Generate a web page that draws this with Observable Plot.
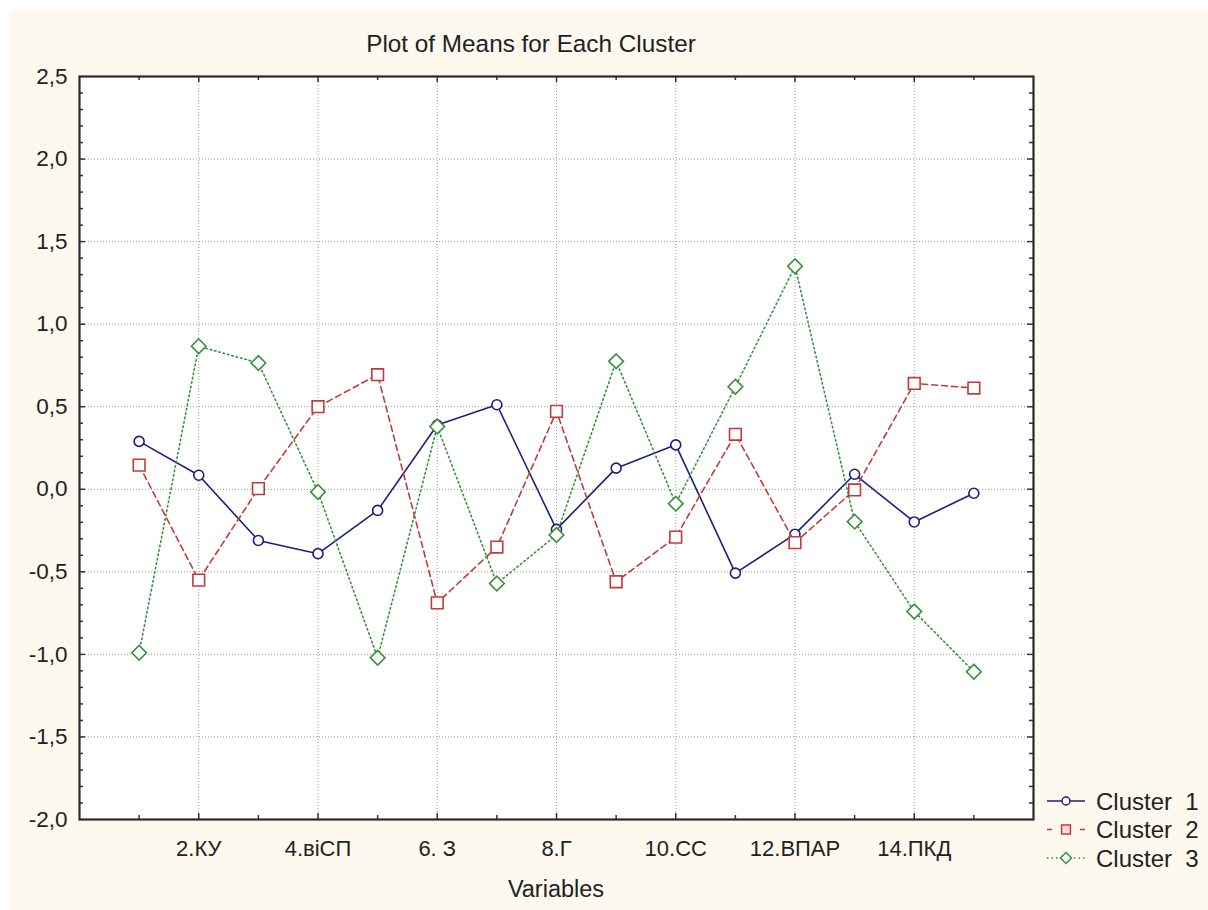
<!DOCTYPE html>
<html><head><meta charset="utf-8">
<script src="https://cdn.jsdelivr.net/npm/d3@7"></script>
<script src="https://cdn.jsdelivr.net/npm/@observablehq/plot@0.6"></script>
<style>
body{margin:0;background:#fff;}
#panel{position:absolute;left:10px;top:10px;width:1198px;height:900px;background:#fdf9ef;}
</style></head><body><div id="panel"></div>
<script>
// ---- data ----
const positions = [1,2,3,4,5,6,7,8,9,10,11,12,13,14,15];
const tickPositions = [2,4,6,8,10,12,14];
const tickLabels = ["2.КУ","4.віСП","6. З","8.Г","10.СС","12.ВПАР","14.ПКД"];
const yTickValues = [-2,-1.5,-1,-0.5,0,0.5,1,1.5,2,2.5];
const seriesNames = ["Cluster  1","Cluster  2","Cluster  3"];
const cluster1 = [0.29, 0.085, -0.31, -0.39, -0.128, 0.389, 0.512, -0.243, 0.128, 0.269, -0.508, -0.272, 0.091, -0.198, -0.024];
const cluster2 = [0.146, -0.55, 0.004, 0.5, 0.694, -0.688, -0.35, 0.472, -0.56, -0.29, 0.333, -0.323, -0.004, 0.641, 0.613];
const cluster3 = [-0.99, 0.866, 0.765, -0.016, -1.02, 0.38, -0.571, -0.277, 0.775, -0.087, 0.621, 1.351, -0.196, -0.74, -1.105];
const title = "Plot of Means for Each Cluster";
const xTitle = "Variables";

// ---- styles ----
const colors = ["#1e1e7e", "#c23b3b", "#3a8f3a"];
const dashes = [null, "6,4", "1.5,3"];
const symbols = ["circle", "square", "diamond2"];
const radii = [5, 6.6, 6.6];
const font = "'Liberation Sans', Arial, sans-serif";

const W = 1198, H = 900, mL = 69, mT = 66, mR = 175, mB = 91;
const innerW = W - mL - mR, innerH = H - mT - mB;

const seriesValues = [cluster1, cluster2, cluster3];
const rows = seriesValues.map((vals, s) => positions.map((p, i) => ({pos: p, value: vals[i], series: seriesNames[s]})));

const labelMap = new Map(tickPositions.map((p, i) => [p, tickLabels[i]]));
const xMinor = positions.filter(p => !tickPositions.includes(p));
const yMinor = d3.range(-19, 25).map(v => v / 10).filter(v => Math.abs(v * 2 - Math.round(v * 2)) > 1e-6);
const yMajorInner = yTickValues.filter(v => v > -2 && v < 2.5);
const tickColor = "#333";

const seriesMarks = rows.flatMap((data, s) => [
  Plot.line(data, {x: "pos", y: "value", stroke: colors[s], strokeWidth: 1.6, strokeDasharray: dashes[s]}),
  Plot.dot(data, {x: "pos", y: "value", symbol: () => symbols[s], r: radii[s], stroke: colors[s], fill: "white", strokeWidth: 1.6})
]);

const chart = Plot.plot({
  width: W, height: H,
  marginLeft: mL, marginTop: mT, marginRight: mR, marginBottom: mB,
  style: {background: "transparent", fontFamily: font, color: "#222"},
  x: {domain: [0, 16]},
  y: {domain: [-2, 2.5]},
  symbol: {type: "identity"},
  marks: [
    Plot.frame({fill: "white", stroke: null}),
    Plot.gridX(tickPositions, {stroke: "#9a9a9a", strokeOpacity: 1, strokeDasharray: "1,2"}),
    Plot.gridY(yMajorInner, {stroke: "#9a9a9a", strokeOpacity: 1, strokeDasharray: "1,2"}),
    // inward ticks: bottom & top
    Plot.tickX(tickPositions, {x: d => d, insetTop: innerH - 6, stroke: tickColor, strokeWidth: 1.5}),
    Plot.tickX(xMinor, {x: d => d, insetTop: innerH - 4, stroke: tickColor, strokeWidth: 1.5}),
    Plot.tickX(tickPositions, {x: d => d, insetBottom: innerH - 6, stroke: tickColor, strokeWidth: 1.5}),
    Plot.tickX(xMinor, {x: d => d, insetBottom: innerH - 4, stroke: tickColor, strokeWidth: 1.5}),
    // inward ticks: left & right
    Plot.tickY(yMajorInner, {y: d => d, insetRight: innerW - 6, stroke: tickColor, strokeWidth: 1.5}),
    Plot.tickY(yMinor, {y: d => d, insetRight: innerW - 4, stroke: tickColor, strokeWidth: 1.5}),
    Plot.tickY(yMajorInner, {y: d => d, insetLeft: innerW - 6, stroke: tickColor, strokeWidth: 1.5}),
    Plot.tickY(yMinor, {y: d => d, insetLeft: innerW - 4, stroke: tickColor, strokeWidth: 1.5}),
    Plot.frame({stroke: "#2a2a2a", strokeWidth: 2.2}),
    Plot.axisX(tickPositions, {anchor: "bottom", tickSize: 0, tickPadding: 21, tickFormat: d => labelMap.get(d), fontSize: 22, label: null}),
    Plot.axisY(yTickValues, {anchor: "left", tickSize: 0, tickPadding: 12, tickFormat: d => d.toFixed(1).replace(".", ","), fontSize: 22.5, label: null}),
    ...seriesMarks
  ]
});

document.getElementById("panel").appendChild(chart);

// ---- title, axis title and legend ----
const svg = d3.select(chart);
svg.append("text").attr("x", 521).attr("y", 42).attr("text-anchor", "middle")
  .attr("font-family", font).attr("font-size", 24.3).attr("fill", "#222").text(title);
svg.append("text").attr("x", 546).attr("y", 887).attr("text-anchor", "middle")
  .attr("font-family", font).attr("font-size", 23.5).attr("fill", "#222").text(xTitle);

const legendX0 = 1037, legendX1 = 1075, legendText = 1086;
const legendY = [791, 819.5, 848];
seriesNames.forEach((name, s) => {
  const g = svg.append("g").attr("transform", `translate(0,${legendY[s]})`);
  g.append("line").attr("x1", legendX0).attr("x2", legendX1).attr("y1", 0).attr("y2", 0)
    .attr("stroke", colors[s]).attr("stroke-width", 1.5)
    .attr("stroke-dasharray", s === 1 ? "5,9,10,9" : s === 2 ? "1.5,3" : null);
  const sym = d3.symbol().type([d3.symbolCircle, d3.symbolSquare, d3.symbolDiamond2][s]).size(s === 0 ? Math.PI * 16 : Math.PI * 25);
  g.append("path").attr("d", sym()).attr("transform", `translate(${(legendX0 + legendX1) / 2},0)`)
    .attr("fill", s === 1 ? "#f7dede" : "white").attr("stroke", colors[s]).attr("stroke-width", 1.5);
  g.append("text").attr("x", legendText).attr("y", 8.5).attr("text-anchor", "start")
    .attr("font-family", font).attr("font-size", 24)
    .attr("fill", "#222").style("white-space", "pre").text(name);
});
</script></body></html>
